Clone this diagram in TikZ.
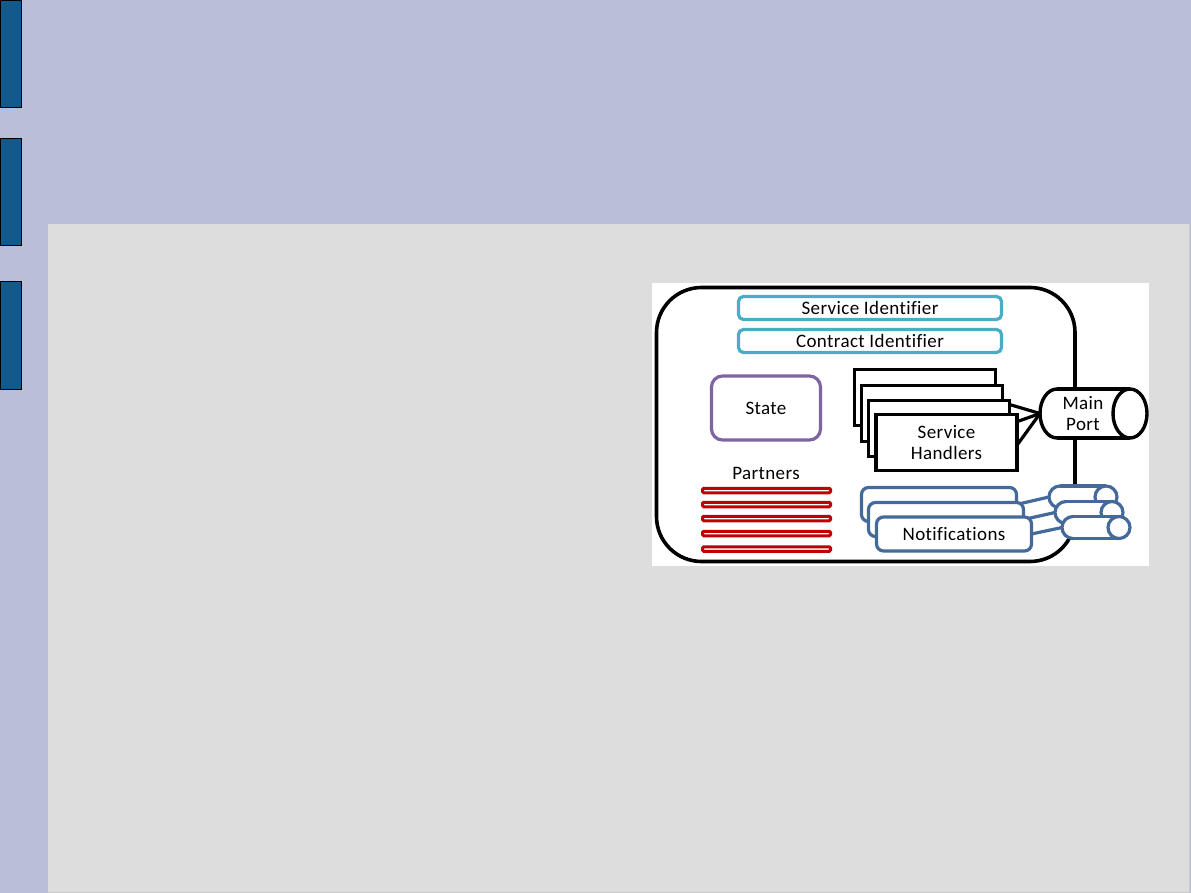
\documentclass[tikz,border=0pt]{standalone}
\usepackage{fontspec}
\setmainfont[Ligatures=NoCommon, LetterSpace=2]{Carlito}
\usetikzlibrary{calc}
\definecolor{bglav}{RGB}{185,191,217}
\definecolor{panelgray}{RGB}{221,221,221}
\definecolor{paneledge}{RGB}{200,200,200}
\definecolor{barblue}{RGB}{19,90,140}
\definecolor{identcyan}{RGB}{75,172,198}
\definecolor{statepurple}{RGB}{128,100,162}
\definecolor{partnerred}{RGB}{192,0,0}
\definecolor{notifblue}{RGB}{68,106,156}
\tikzset{
  lbl/.style={font=\fontsize{19}{21}\selectfont, align=center},
  sidebar/.style={fill=barblue, draw=black, line width=1},
  ident/.style={lbl, draw=identcyan, line width=3.2, rounded corners=5, fill=white, minimum width=263, minimum height=23},
  statebox/.style={lbl, draw=statepurple, line width=3.2, rounded corners=11, fill=white, minimum width=109, minimum height=64},
  hbox/.style={lbl, draw=black, line width=3.6, fill=white, minimum width=141, minimum height=56},
  pbar/.style={draw=partnerred, line width=3, fill=white, minimum width=128, minimum height=4.5, rounded corners=1.2},
  nbox/.style={lbl, draw=notifblue, line width=3.2, fill=white, rounded corners=7, minimum width=155, minimum height=34},
  hconn/.style={draw=black, line width=3.2},
  nconn/.style={draw=notifblue, line width=3.2},
  portline/.style={draw=black, line width=3.4, fill=white},
  cylline/.style={draw=notifblue, line width=3.2, fill=white}
}
\begin{document}
\begin{tikzpicture}[x=1pt,y=-1pt, every node/.append style={outer sep=0pt, inner sep=0pt}]
\useasboundingbox (0,0) rectangle (1191,893);
% slide background
\fill[bglav] (0,0) rectangle (1191,893);
\fill[panelgray] (48,224) rectangle (1190,892);
\draw[paneledge, line width=1.2] (1189.4,224) -- (1189.4,892.4) -- (48,892.4);
\draw[sidebar] (0.5,0.5) rectangle (21,108);
\draw[sidebar] (0.5,138.5) rectangle (21,246);
\draw[sidebar] (0.5,281.5) rectangle (21,389);
% picture
\fill[white] (652,283) rectangle (1149,566);
\draw[line width=3.6, rounded corners=45] (656.5,287.5) rectangle (1075,561.5);
\node[ident] (sid) at (870,308) {Service Identifier};
\node[ident] (cid) at (870,341) {Contract Identifier};
\node[statebox] (state) at (766,408) {State};
\node[lbl] (partners) at (766,473) {Partners};
\foreach \y [count=\i] in {490.5,504.5,518.5,533.5,549}
  \node[pbar] (p\i) at (766.5,\y) {};
% named connection points
\coordinate (mp) at (1040,413.5);
\coordinate (c1) at (1049,497);
\coordinate (c2) at (1055,512.5);
\coordinate (c3) at (1062,527.5);
% service handlers
\node[hbox] (h1) at (925,397.5) {};
\node[hbox] (h2) at (932,413.5) {};
\node[hbox] (h3) at (939,428.5) {};
\draw[hconn] ($(h3.north east)+(0,4)$) -- (mp);
\draw[hconn] ($(h3.north east)+(8,21)$) -- (mp);
\draw[hconn] ($(h3.north east)+(8,44)$) -- (mp);
\node[hbox] (h4) at (946.5,442.5) {Service\\Handlers};
% notifications
\node[nbox] (n1) at (939,504.5) {};
\draw[nconn] (n1.east) -- (c1);
\node[nbox] (n2) at (946,519.5) {};
\draw[nconn] (n2.east) -- (c2);
\node[nbox] (n3) at (954,534) {Notifications};
\draw[nconn] (n3.east) -- (c3);
% main port cylinder
\filldraw[portline] (1057,413.5) ellipse [x radius=17, y radius=24.5];
\fill[white] (1057,389) rectangle (1130,438);
\draw[portline] (1057,389) -- (1130,389) (1057,438) -- (1130,438);
\filldraw[portline] (1130,413.5) ellipse [x radius=17, y radius=24.5];
\node[lbl] (mport) at (1083,414) {Main\\Port};
% notification port cylinders
\foreach \cx/\cy in {1060/497,1066/512.5,1073/527.5}{
  \filldraw[cylline] (\cx,\cy) ellipse [x radius=11, y radius=11];
  \fill[white] (\cx,\cy-11) rectangle (\cx+46,\cy+11);
  \draw[cylline] (\cx,\cy-11) -- (\cx+46,\cy-11) (\cx,\cy+11) -- (\cx+46,\cy+11);
  \filldraw[cylline] (\cx+46,\cy) ellipse [x radius=11, y radius=11];
}
\end{tikzpicture}
\end{document}
